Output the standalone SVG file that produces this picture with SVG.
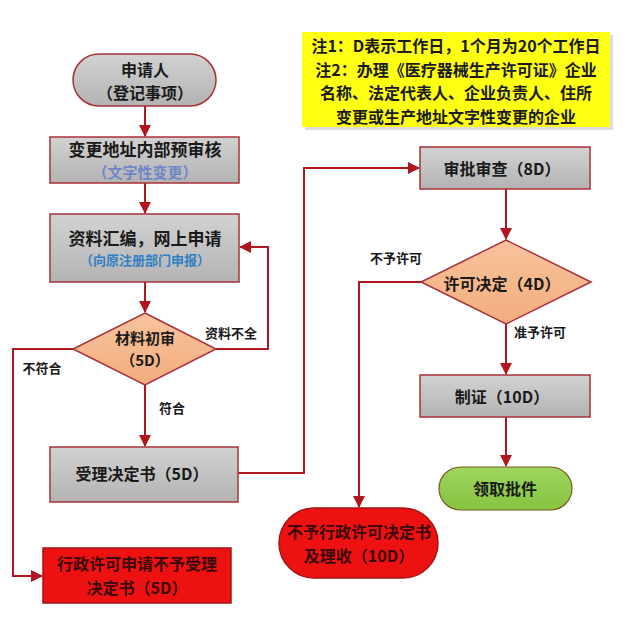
<svg xmlns="http://www.w3.org/2000/svg" width="633" height="622" viewBox="0 0 633 622">
  <defs>
    <linearGradient id="gray" x1="0" y1="0" x2="0" y2="1">
      <stop offset="0" stop-color="#d2d2d2"/>
      <stop offset="1" stop-color="#b3b3b3"/>
    </linearGradient>
    <linearGradient id="orange" x1="0" y1="0" x2="0" y2="1">
      <stop offset="0" stop-color="#f8c39c"/>
      <stop offset="1" stop-color="#f2ad7e"/>
    </linearGradient>
    <linearGradient id="green" x1="0" y1="0" x2="0" y2="1">
      <stop offset="0" stop-color="#9ed55e"/>
      <stop offset="1" stop-color="#86c441"/>
    </linearGradient>
    <marker id="arr" markerUnits="userSpaceOnUse" markerWidth="12" markerHeight="12" viewBox="0 0 12 12" refX="11" refY="6" orient="auto">
      <path d="M0,0 L12,6 L0,12 Z" fill="#b3151f"/>
    </marker>
  </defs>
  <style>
    text { font-family: "Noto Sans CJK SC", "Noto Sans", sans-serif; font-weight: bold; text-anchor: middle; dominant-baseline: central; fill: #1a1a1a; }
    .box { fill: url(#gray); stroke: #a8303a; stroke-width: 1.5; }
    .dia { fill: url(#orange); stroke: #a8303a; stroke-width: 1.5; }
    .red { fill: #ee1111; stroke: #a31515; stroke-width: 1.5; }
    .grn { fill: url(#green); stroke: #7a5a1a; stroke-width: 1.2; }
    .conn path { fill: none; stroke: #b3151f; stroke-width: 2; marker-end: url(#arr); }
    .t15 { font-size: 15px; }
    .t16 { font-size: 16px; }
    .t17 { font-size: 17px; }
    .lbl { font-size: 13px; }
    .dark { fill: #3a0a0a; }
    .shadow { fill: #dcdcdc; }
  </style>
  <rect width="633" height="622" fill="#ffffff"/>

  <g id="note">
    <rect x="305" y="35" width="308" height="95" class="shadow"/>
    <rect x="302" y="32" width="308" height="95" fill="#ffff14"/>
    <text x="456" y="45" class="t16">注1：D表示工作日，1个月为20个工作日</text>
    <text x="456" y="68.5" class="t16">注2：办理《医疗器械生产许可证》企业</text>
    <text x="456" y="92" class="t16">名称、法定代表人、企业负责人、住所</text>
    <text x="456" y="115.5" class="t16">变更或生产地址文字性变更的企业</text>
  </g>

  <g class="conn" id="connectors">
    <path d="M145,106 V136"/>
    <path d="M145,183 V213"/>
    <path d="M145,282 V312"/>
    <path d="M216,349 H268 V247 H240"/>
    <path d="M73,349 H13 V576 H42"/>
    <path d="M145,385 V446"/>
    <path d="M238,473 H304 V168 H419"/>
    <path d="M506,189 V239"/>
    <path d="M421,282 H359 V507"/>
    <path d="M506,324 V374"/>
    <path d="M506,417 V466"/>
  </g>
  <g id="conn-labels">
    <text x="231" y="332" class="lbl">资料不全</text>
    <text x="42" y="367" class="lbl">不符合</text>
    <text x="172" y="407" class="lbl">符合</text>
    <text x="396" y="257" class="lbl">不予许可</text>
    <text x="540" y="331" class="lbl">准予许可</text>
  </g>

  <g id="start">
    <rect x="73" y="54" width="143" height="52" rx="26" class="box"/>
    <text x="145" y="69" class="t16">申请人</text>
    <text x="145" y="92" class="t16">（登记事项）</text>
  </g>

  <g id="prereview">
    <rect x="50" y="137" width="189" height="46" class="box"/>
    <text x="145" y="148" class="t17">变更地址内部预审核</text>
    <text x="145" y="171" style="font-size:15px;fill:#6f86c8">（文字性变更）</text>
  </g>

  <g id="submit">
    <rect x="50" y="214" width="189" height="68" class="box"/>
    <text x="145" y="237" class="t17">资料汇编，网上申请</text>
    <text x="145" y="259" style="font-size:13px;fill:#2f7fc4">（向原注册部门申报）</text>
  </g>

  <g id="initial-review">
    <polygon points="145,313 216,349 145,385 73,349" class="dia"/>
    <text x="145" y="337" class="t15">材料初审</text>
    <text x="145" y="359" class="t15">（5D）</text>
  </g>

  <g id="accept">
    <rect x="50" y="447" width="188" height="55" class="box"/>
    <text x="142" y="473" class="t16">受理决定书（5D）</text>
  </g>

  <g id="reject-accept">
    <rect x="43" y="548" width="188" height="55" class="red"/>
    <text x="137" y="563" class="t16 dark">行政许可申请不予受理</text>
    <text x="137" y="587" class="t16 dark">决定书（5D）</text>
  </g>

  <g id="approval-review">
    <rect x="420" y="147" width="170" height="42" class="box"/>
    <text x="502" y="168" class="t16">审批审查（8D）</text>
  </g>

  <g id="decision">
    <polygon points="506,240 591,282 506,324 421,282" class="dia"/>
    <text x="502" y="283" class="t16">许可决定（4D）</text>
  </g>

  <g id="certify">
    <rect x="420" y="375" width="170" height="42" class="box"/>
    <text x="502" y="396" class="t16">制证（10D）</text>
  </g>

  <g id="collect">
    <rect x="439" y="467" width="133" height="43" rx="21.5" class="grn"/>
    <text x="505" y="488" class="t16">领取批件</text>
  </g>

  <g id="reject-permit">
    <rect x="279" y="508" width="159" height="70" rx="35" class="red"/>
    <text x="359" y="531" class="t16 dark">不予行政许可决定书</text>
    <text x="359" y="555" class="t16 dark">及理收（10D）</text>
  </g>
</svg>
